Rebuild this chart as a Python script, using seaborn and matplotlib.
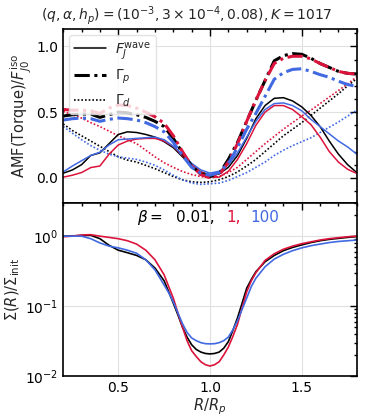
import numpy as np
import pandas as pd
import matplotlib
matplotlib.use("Agg")
import matplotlib.pyplot as plt
import seaborn as sns
from matplotlib.lines import Line2D
from matplotlib.ticker import MultipleLocator, LogLocator, NullFormatter

# ---------------- data ----------------
R = [0.20, 0.25, 0.30, 0.35, 0.40, 0.45, 0.50, 0.55, 0.60, 0.65, 0.70, 0.75,
     0.80, 0.85, 0.90, 0.95, 1.00, 1.05, 1.10, 1.15, 1.20, 1.25, 1.30, 1.35,
     1.40, 1.45, 1.50, 1.55, 1.60, 1.65, 1.70, 1.75, 1.80]

betas = ["0.01", "1", "100"]

FJ_b001 = [0.035, 0.06, 0.10, 0.17, 0.19, 0.26, 0.33, 0.35, 0.345, 0.33, 0.31, 0.275,
           0.23, 0.16, 0.09, 0.045, 0.022, 0.03, 0.08, 0.17, 0.30, 0.45, 0.55, 0.605,
           0.61, 0.585, 0.54, 0.475, 0.39, 0.28, 0.18, 0.10, 0.04]
FJ_b1 = [0.005, 0.02, 0.04, 0.078, 0.09, 0.18, 0.25, 0.28, 0.295, 0.30, 0.30, 0.28,
         0.24, 0.17, 0.10, 0.045, 0.01, 0.005, 0.05, 0.14, 0.26, 0.40, 0.50, 0.55,
         0.55, 0.52, 0.465, 0.405, 0.31, 0.20, 0.12, 0.065, 0.033]
FJ_b100 = [0.045, 0.09, 0.13, 0.17, 0.195, 0.25, 0.29, 0.295, 0.30, 0.305, 0.31, 0.29,
           0.24, 0.18, 0.11, 0.06, 0.036, 0.05, 0.10, 0.19, 0.31, 0.43, 0.52, 0.565,
           0.57, 0.55, 0.51, 0.445, 0.39, 0.335, 0.28, 0.235, 0.18]

Gp_b001 = [0.47, 0.48, 0.485, 0.485, 0.46, 0.48, 0.50, 0.495, 0.48, 0.46, 0.43, 0.39,
           0.30, 0.19, 0.09, 0.03, 0.01, 0.03, 0.14, 0.27, 0.43, 0.59, 0.74, 0.89,
           0.93, 0.945, 0.94, 0.91, 0.87, 0.84, 0.81, 0.795, 0.79]
Gp_b1 = [0.52, 0.515, 0.515, 0.51, 0.49, 0.53, 0.555, 0.55, 0.53, 0.50, 0.465, 0.415,
         0.32, 0.20, 0.09, 0.025, 0.0, 0.02, 0.12, 0.26, 0.43, 0.59, 0.74, 0.87,
         0.91, 0.925, 0.925, 0.905, 0.87, 0.84, 0.81, 0.795, 0.79]
Gp_b100 = [0.44, 0.45, 0.455, 0.45, 0.43, 0.445, 0.455, 0.45, 0.44, 0.42, 0.39, 0.35,
           0.27, 0.17, 0.08, 0.035, 0.02, 0.04, 0.11, 0.23, 0.37, 0.49, 0.62, 0.75,
           0.80, 0.825, 0.83, 0.81, 0.785, 0.765, 0.735, 0.71, 0.695]

Gd_b001 = [0.41, 0.36, 0.32, 0.28, 0.24, 0.20, 0.16, 0.135, 0.12, 0.095, 0.07, 0.04,
           0.01, -0.015, -0.03, -0.035, -0.03, -0.015, 0.01, 0.045, 0.09, 0.14, 0.20, 0.26,
           0.32, 0.37, 0.42, 0.475, 0.53, 0.585, 0.64, 0.70, 0.755]
Gd_b1 = [0.505, 0.48, 0.455, 0.42, 0.39, 0.355, 0.32, 0.29, 0.26, 0.21, 0.16, 0.115,
         0.08, 0.048, 0.025, 0.01, 0.0, 0.01, 0.04, 0.08, 0.14, 0.20, 0.26, 0.315,
         0.37, 0.42, 0.47, 0.515, 0.565, 0.615, 0.665, 0.715, 0.77]
Gd_b100 = [0.39, 0.34, 0.29, 0.245, 0.21, 0.18, 0.16, 0.15, 0.14, 0.12, 0.095, 0.06,
           0.02, -0.015, -0.04, -0.05, -0.045, -0.04, -0.02, 0.01, 0.04, 0.08, 0.12, 0.17,
           0.21, 0.245, 0.275, 0.305, 0.345, 0.385, 0.425, 0.47, 0.515]

# surface density: finer sampling through the gap
R_sig = [0.20, 0.25, 0.30, 0.35, 0.40, 0.45, 0.50, 0.55, 0.60, 0.65, 0.70, 0.75,
         0.775, 0.80, 0.825, 0.85, 0.875, 0.90, 0.925, 0.95, 0.975, 1.00, 1.025,
         1.05, 1.075, 1.10, 1.125, 1.15, 1.175, 1.20, 1.225, 1.25, 1.30, 1.35,
         1.40, 1.45, 1.50, 1.55, 1.60, 1.65, 1.70, 1.75, 1.80]
Sig_b001 = [1.0, 1.01, 1.02, 1.03, 0.92, 0.74, 0.63, 0.58, 0.53, 0.46, 0.35, 0.23,
            0.16, 0.11, 0.075, 0.05, 0.036, 0.028, 0.024, 0.022, 0.021, 0.0207, 0.021,
            0.022, 0.025, 0.031, 0.045, 0.068, 0.11, 0.18, 0.24, 0.31, 0.43, 0.53,
            0.62, 0.69, 0.75, 0.81, 0.86, 0.90, 0.93, 0.96, 0.99]
Sig_b1 = [0.98, 1.0, 1.04, 1.05, 1.0, 0.96, 0.92, 0.86, 0.77, 0.63, 0.46, 0.28,
          0.19, 0.13, 0.08, 0.05, 0.032, 0.023, 0.019, 0.016, 0.0145, 0.0139, 0.0145,
          0.016, 0.02, 0.026, 0.037, 0.055, 0.095, 0.16, 0.23, 0.30, 0.45, 0.56,
          0.65, 0.72, 0.78, 0.83, 0.88, 0.92, 0.95, 0.98, 1.0]
Sig_b100 = [1.0, 1.0, 1.0, 0.92, 0.80, 0.72, 0.68, 0.63, 0.57, 0.46, 0.33, 0.20,
            0.155, 0.115, 0.08, 0.056, 0.042, 0.035, 0.032, 0.030, 0.029, 0.0288, 0.029,
            0.030, 0.032, 0.036, 0.046, 0.062, 0.09, 0.13, 0.19, 0.25, 0.365, 0.47,
            0.55, 0.62, 0.68, 0.73, 0.77, 0.81, 0.84, 0.86, 0.88]

colors = {"0.01": "black", "1": "#DC143C", "100": "#4169E1"}

FJ = {"0.01": FJ_b001, "1": FJ_b1, "100": FJ_b100}
Gp = {"0.01": Gp_b001, "1": Gp_b1, "100": Gp_b100}
Gd = {"0.01": Gd_b001, "1": Gd_b1, "100": Gd_b100}
Sig = {"0.01": Sig_b001, "1": Sig_b1, "100": Sig_b100}

# ---------------- style ----------------
sns.set_theme(style="white")
plt.rcParams.update({
    "font.family": ["DejaVu Sans"],
    "mathtext.fontset": "dejavusans",
    "xtick.direction": "in", "ytick.direction": "in",
    "xtick.top": True, "ytick.right": True,
    "xtick.major.size": 5, "ytick.major.size": 5,
    "xtick.minor.size": 2.5, "ytick.minor.size": 2.5,
    "xtick.major.width": 1.0, "ytick.major.width": 1.0,
    "axes.edgecolor": "black", "axes.linewidth": 1.2,
    "xtick.color": "black", "ytick.color": "black",
    "xtick.labelsize": 10, "ytick.labelsize": 10,
    "lines.solid_joinstyle": "round", "lines.dash_joinstyle": "round",
})

fig = plt.figure(figsize=(3.74, 4.19), dpi=100)
L, Rr = 0.169, 0.954
ax1 = fig.add_axes([L, 0.516, Rr - L, 0.930 - 0.516])
ax2 = fig.add_axes([L, 0.1026, Rr - L, 0.516 - 0.1026], sharex=ax1)

dashdot = (0, (5, 1.5, 1, 1.5))
dotted = (0, (1, 1.2))

# top panel
for b in betas:
    sns.lineplot(x=R, y=Gd[b], ax=ax1, color=colors[b], linestyle=dotted, lw=1.2)
for b in betas:
    sns.lineplot(x=R, y=FJ[b], ax=ax1, color=colors[b], linestyle="-", lw=1.1)
for b in betas:
    sns.lineplot(x=R, y=Gp[b], ax=ax1, color=colors[b], linestyle=dashdot, lw=2.2)

ax1.set_xlim(0.2, 1.8)
ax1.set_ylim(-0.19, 1.13)
ax1.yaxis.set_major_locator(MultipleLocator(0.5))
ax1.yaxis.set_minor_locator(MultipleLocator(0.1))
ax1.xaxis.set_major_locator(MultipleLocator(0.5))
ax1.xaxis.set_minor_locator(MultipleLocator(0.1))
ax1.tick_params(which="both", labelbottom=False)
ax1.grid(True, which="major", color="#e0e0e0", lw=0.8)
ax1.set_axisbelow(True)
ax1.set_ylabel(r"AMF(Torque)$/F_{J0}^{\rm iso}$", fontsize=10.5, labelpad=2)
fig.text(0.5, 0.963, r"$(q,\alpha,h_p)=(10^{-3},3\times10^{-4},0.08),K=1017$",
         fontsize=10, ha="center", va="center")

handles = [Line2D([], [], color="black", lw=1.1, ls="-"),
           Line2D([], [], color="black", lw=2.2, ls=dashdot),
           Line2D([], [], color="black", lw=1.2, ls=dotted)]
labels = [r"$F_J^{\rm wave}$", r"$\Gamma_p$", r"$\Gamma_d$"]
ax1.legend(handles, labels, loc="upper left", fontsize=10, frameon=True,
           framealpha=0.8, edgecolor="#dddddd", handlelength=2.3,
           handletextpad=0.7, borderaxespad=0.4, labelspacing=0.45,
           borderpad=0.35)

# bottom panel
for b in betas:
    sns.lineplot(x=R_sig, y=Sig[b], ax=ax2, color=colors[b], lw=1.2)
ax2.set_yscale("log")
ax2.set_ylim(1e-2, 3.0)
ax2.set_xlim(0.2, 1.8)
ax2.yaxis.set_major_locator(LogLocator(base=10, numticks=10))
ax2.yaxis.set_minor_locator(LogLocator(base=10, subs=np.arange(2, 10), numticks=10))
ax2.yaxis.set_minor_formatter(NullFormatter())
ax2.xaxis.set_major_locator(MultipleLocator(0.5))
ax2.xaxis.set_minor_locator(MultipleLocator(0.1))
ax2.grid(True, which="major", color="#e0e0e0", lw=0.8)
ax2.set_axisbelow(True)
ax2.set_ylabel(r"$\Sigma(R)/\Sigma_{\rm init}$", fontsize=10.5, labelpad=2)
ax2.set_xlabel(r"$R/R_p$", fontsize=10.5, labelpad=1)

ty = 0.913
ax2.text(0.25, ty, r"$\beta=$", transform=ax2.transAxes, fontsize=11, va="center", color="black")
ax2.text(0.384, ty, "0.01,", transform=ax2.transAxes, fontsize=11, va="center", color=colors["0.01"])
ax2.text(0.555, ty, "1,", transform=ax2.transAxes, fontsize=11, va="center", color=colors["1"])
ax2.text(0.636, ty, "100", transform=ax2.transAxes, fontsize=11, va="center", color=colors["100"])

fig.savefig("out.png", dpi=100)
